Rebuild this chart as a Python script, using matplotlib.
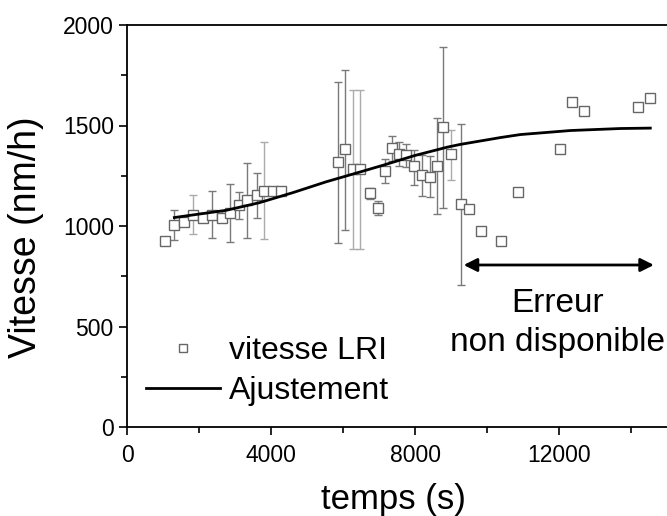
import numpy as np
import matplotlib
matplotlib.use("Agg")
import matplotlib.pyplot as plt
from matplotlib.ticker import MultipleLocator

plt.rcParams['font.family'] = ['Liberation Sans', 'DejaVu Sans']

# measured speed (time in s, speed in nm/h)
temps = [1057, 1315, 1593, 1827, 2105, 2355, 2633, 2864, 3123, 3345, 3607, 3810,
         4052, 4274, 5859, 6054, 6276, 6479, 6738, 6972, 7175, 7361, 7564, 7759,
         7981, 8195, 8418, 8612, 8788, 9010, 9269, 9511, 9825, 10401, 10865,
         12022, 12366, 12700, 14191, 14516]
vitesse = [927, 1006, 1021, 1056, 1040, 1054, 1041, 1066, 1105, 1129, 1152, 1175,
           1175, 1175, 1318, 1381, 1282, 1282, 1162, 1092, 1274, 1388, 1360, 1355,
           1297, 1252, 1244, 1299, 1493, 1358, 1109, 1083, 977, 926, 1170,
           1381, 1619, 1571, 1591, 1637]
nan = np.nan
err_haut = [nan, 1081, nan, 1155, nan, 1175, 1073, 1208, 1170, 1315, 1264, 1420,
            nan, nan, 1716, 1776, 1677, 1677, 1190, 1125, 1332, 1447, 1419, 1406,
            1380, 1355, 1347, 1535, 1889, 1480, 1506, nan, nan, nan, nan,
            nan, nan, nan, nan, nan]
err_bas = [nan, 931, nan, 959, nan, 939, 1018, 921, 1035, 939, 1038, 934,
           nan, nan, 916, 980, 885, 885, 1134, 1054, 1213, 1323, 1297, 1295,
           1206, 1150, 1142, 1059, 1092, 1228, 708, nan, nan, nan, nan,
           nan, nan, nan, nan, nan]
# points whose error bars are drawn lighter
clair = [3, 11, 16, 17, 29]

# fitted curve
fit_t = [1315, 1827, 2753, 3679, 4608, 5534, 6460, 7127, 7981, 8890, 9260,
         10373, 10929, 12319, 13710, 14536]
fit_v = [1042, 1055, 1078, 1116, 1166, 1220, 1268, 1303, 1350, 1392, 1406,
         1440, 1455, 1475, 1485, 1487]

t = np.array(temps, dtype=float)
v = np.array(vitesse, dtype=float)
yerr = np.vstack([v - np.array(err_bas), np.array(err_haut) - v])
light = np.zeros(len(t), dtype=bool)
light[clair] = True

fig = plt.figure(figsize=(6.67, 5.16), dpi=100)
ax = fig.add_axes([127 / 667, 89 / 516, 540 / 667, 402 / 516])

for sel, col in [(~light, '#7a7a7a'), (light, '#ababab')]:
    ax.errorbar(t[sel], v[sel], yerr=yerr[:, sel], fmt='none', ecolor=col,
                elinewidth=1, capsize=3, capthick=1, zorder=2)
ax.plot(t, v, 's', mfc='white', mec='#666666', ms=6.5, mew=1, zorder=3,
        label='vitesse LRI')
ax.plot(fit_t, fit_v, '-', color='black', lw=2, zorder=4, label='Ajustement')

ax.annotate('', xy=(14636, 806), xytext=(9352, 806),
            arrowprops=dict(arrowstyle='<|-|>', color='black', lw=2,
                            mutation_scale=20, shrinkA=0, shrinkB=0))
ax.text(11950, 518, 'Erreur\nnon disponible', ha='center', va='center',
        fontsize=24, linespacing=1.32)

ax.set_xlim(0, 15000)
ax.set_ylim(0, 2000)
ax.xaxis.set_major_locator(MultipleLocator(4000))
ax.xaxis.set_minor_locator(MultipleLocator(2000))
ax.yaxis.set_major_locator(MultipleLocator(500))
ax.yaxis.set_minor_locator(MultipleLocator(250))
ax.tick_params(which='major', direction='out', length=6, width=1.2,
               labelsize=16.5, top=False, right=False)
ax.tick_params(axis='x', which='major', pad=6)
ax.tick_params(which='minor', direction='out', length=4, width=1.2,
               top=False, right=False)
for s in ['left', 'bottom', 'top']:
    ax.spines[s].set_linewidth(1.3)
ax.spines['right'].set_visible(False)

ax.set_xlabel('temps (s)', fontsize=25, va='center')
ax.xaxis.set_label_coords((393 - 127) / 540, (427 - 500) / 402)
ax.set_ylabel('Vitesse (nm/h)', fontsize=27, va='center')
ax.yaxis.set_label_coords((26 - 127) / 540, (427 - 237) / 402)

leg = ax.legend(loc='lower left', bbox_to_anchor=(0.0, 0.005), frameon=False,
                fontsize=23, handlelength=2.3, handletextpad=0.3,
                labelspacing=0.3, borderaxespad=0.2, markerscale=0.8)

fig.savefig('out.png', dpi=100)
